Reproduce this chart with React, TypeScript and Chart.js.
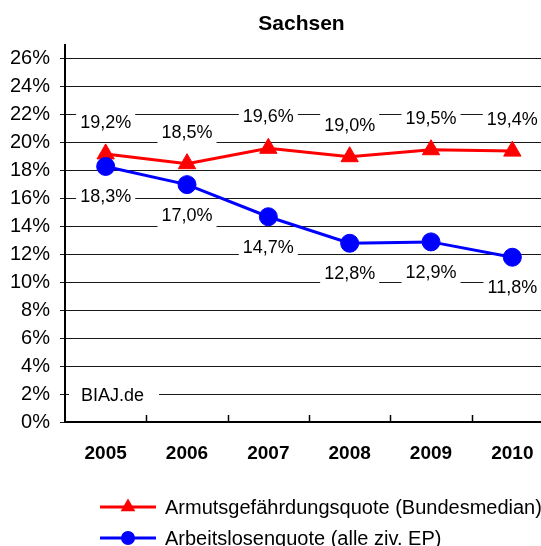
import React, { useEffect, useRef } from 'react';
import { Chart, registerables } from 'chart.js';

Chart.register(...registerables);

const title = 'Sachsen';
const years = ['2005', '2006', '2007', '2008', '2009', '2010'];
const armutsgefaehrdungsquote = [19.2, 18.5, 19.6, 19.0, 19.5, 19.4];
const arbeitslosenquote = [18.3, 17.0, 14.7, 12.8, 12.9, 11.8];
const seriesLabels = ['Armutsgefährdungsquote (Bundesmedian)', 'Arbeitslosenquote (alle ziv. EP)'];
const yTickValues = [0, 2, 4, 6, 8, 10, 12, 14, 16, 18, 20, 22, 24, 26];
const watermark = 'BIAJ.de';
const watermarkValue = 2;

const FONT = "'Liberation Sans', Arial, Helvetica, sans-serif";
const RED = '#FF0000';
const BLUE = '#0000FF';

const fmt = (v: number) => v.toFixed(1).replace('.', ',') + '%';

const titlePlugin = {
  id: 'centerTitle',
  afterDraw(chart: any) {
    const ctx = chart.ctx;
    ctx.save();
    ctx.font = `bold 21px ${FONT}`;
    ctx.fillStyle = '#000';
    ctx.textAlign = 'center';
    ctx.textBaseline = 'middle';
    ctx.fillText(title, chart.width / 2, 24);
    ctx.restore();
  },
};

const labelPlugin = {
  id: 'valueLabels',
  beforeDatasetsDraw(chart: any) {
    const ctx = chart.ctx;
    const area = chart.chartArea;
    ctx.save();
    ctx.font = `18px ${FONT}`;
    ctx.textBaseline = 'middle';
    // watermark
    const wy = chart.scales.y.getPixelForValue(watermarkValue);
    ctx.fillStyle = '#fff';
    ctx.fillRect(area.left + 4, wy - 12, 90, 24);
    ctx.fillStyle = '#000';
    ctx.textAlign = 'left';
    ctx.fillText(watermark, area.left + 16, wy + 2);
    // value labels
    ctx.textAlign = 'center';
    chart.data.datasets.forEach((ds: any, i: number) => {
      const meta = chart.getDatasetMeta(i);
      const dir = i === 0 ? -1 : 1;
      meta.data.forEach((pt: any, j: number) => {
        const text = fmt(ds.data[j]);
        const cx = pt.x;
        const cy = pt.y + dir * 31;
        const w = ctx.measureText(text).width + 8;
        ctx.fillStyle = '#fff';
        ctx.fillRect(cx - w / 2, cy - 12, w, 24);
        ctx.fillStyle = '#000';
        ctx.fillText(text, cx, cy);
      });
    });
    // inner x tick marks between categories
    const xs = chart.scales.x;
    ctx.strokeStyle = '#000';
    ctx.lineWidth = 1.5;
    for (let i = 1; i <= years.length; i++) {
      const x = Math.round((xs.getPixelForValue(i - 1) + xs.getPixelForValue(i)) / 2) + 0.5;
      ctx.beginPath();
      ctx.moveTo(x, area.bottom);
      ctx.lineTo(x, area.bottom - 7);
      ctx.stroke();
    }
    ctx.restore();
  },
};

const legendPlugin = {
  id: 'customLegend',
  afterDraw(chart: any) {
    const ctx = chart.ctx;
    ctx.save();
    ctx.font = `20px ${FONT}`;
    ctx.textBaseline = 'middle';
    ctx.textAlign = 'left';
    const rows = [507, 538];
    chart.data.datasets.forEach((ds: any, i: number) => {
      const y = rows[i];
      ctx.strokeStyle = ds.borderColor;
      ctx.fillStyle = ds.backgroundColor;
      ctx.lineWidth = 3;
      ctx.beginPath();
      ctx.moveTo(100, y);
      ctx.lineTo(156, y);
      ctx.stroke();
      const cx = 128;
      ctx.beginPath();
      if (ds.pointStyle === 'triangle') {
        const r = 8.5;
        ctx.moveTo(cx, y - r);
        ctx.lineTo(cx + r * 0.866, y + r * 0.5);
        ctx.lineTo(cx - r * 0.866, y + r * 0.5);
        ctx.closePath();
      } else {
        ctx.arc(cx, y, 7, 0, Math.PI * 2);
      }
      ctx.fill();
      ctx.fillStyle = '#000';
      ctx.fillText(ds.label, 165, y + 1);
    });
    ctx.restore();
  },
};

export default function App() {
  const ref = useRef<HTMLCanvasElement | null>(null);
  useEffect(() => {
    if (!ref.current) return;
    Chart.defaults.font.family = FONT;
    Chart.defaults.color = '#000';
    const chart = new Chart(ref.current, {
      type: 'line',
      data: {
        labels: years,
        datasets: [
          {
            label: seriesLabels[0],
            data: armutsgefaehrdungsquote,
            borderColor: RED,
            backgroundColor: RED,
            borderWidth: 3,
            pointStyle: 'triangle',
            pointRadius: 10,
            pointBorderWidth: 1,
            tension: 0,
            order: 1,
          },
          {
            label: seriesLabels[1],
            data: arbeitslosenquote,
            borderColor: BLUE,
            backgroundColor: BLUE,
            borderWidth: 3,
            pointStyle: 'circle',
            pointRadius: 9,
            pointBorderWidth: 1,
            tension: 0,
            order: 0,
          },
        ],
      },
      options: {
        animation: false,
        responsive: false,
        events: [],
        layout: { padding: { left: 0, right: 50, top: 45, bottom: 88 } },
        plugins: {
          legend: { display: false },
          tooltip: { enabled: false },
          title: { display: false },
        },
        scales: {
          x: {
            offset: true,
            grid: { display: false },
            border: { display: true, color: '#000', width: 2 },
            ticks: { color: '#000', font: { size: 19, weight: 'bold', family: FONT }, padding: 12 },
            afterFit: (s: any) => {
              s.height = 50;
            },
          },
          y: {
            min: 0,
            max: 27,
            afterBuildTicks: (s: any) => {
              s.ticks = yTickValues.map((v) => ({ value: v }));
            },
            ticks: {
              color: '#000',
              font: { size: 20, family: FONT },
              padding: 10,
              callback: (v: any) => v + '%',
            },
            grid: { color: '#1a1a1a', lineWidth: 1, tickLength: 5 },
            border: { color: '#000', width: 2 },
            afterFit: (s: any) => {
              s.width = 65;
            },
          },
        },
      },
      plugins: [labelPlugin, legendPlugin, titlePlugin],
    } as any);
    return () => chart.destroy();
  }, []);
  return (
    <div style={{ position: 'fixed', left: 0, top: 0, width: 541, height: 546, overflow: 'hidden', background: '#fff' }}>
      <canvas ref={ref} width={603} height={560} style={{ display: 'block' }} />
    </div>
  );
}
